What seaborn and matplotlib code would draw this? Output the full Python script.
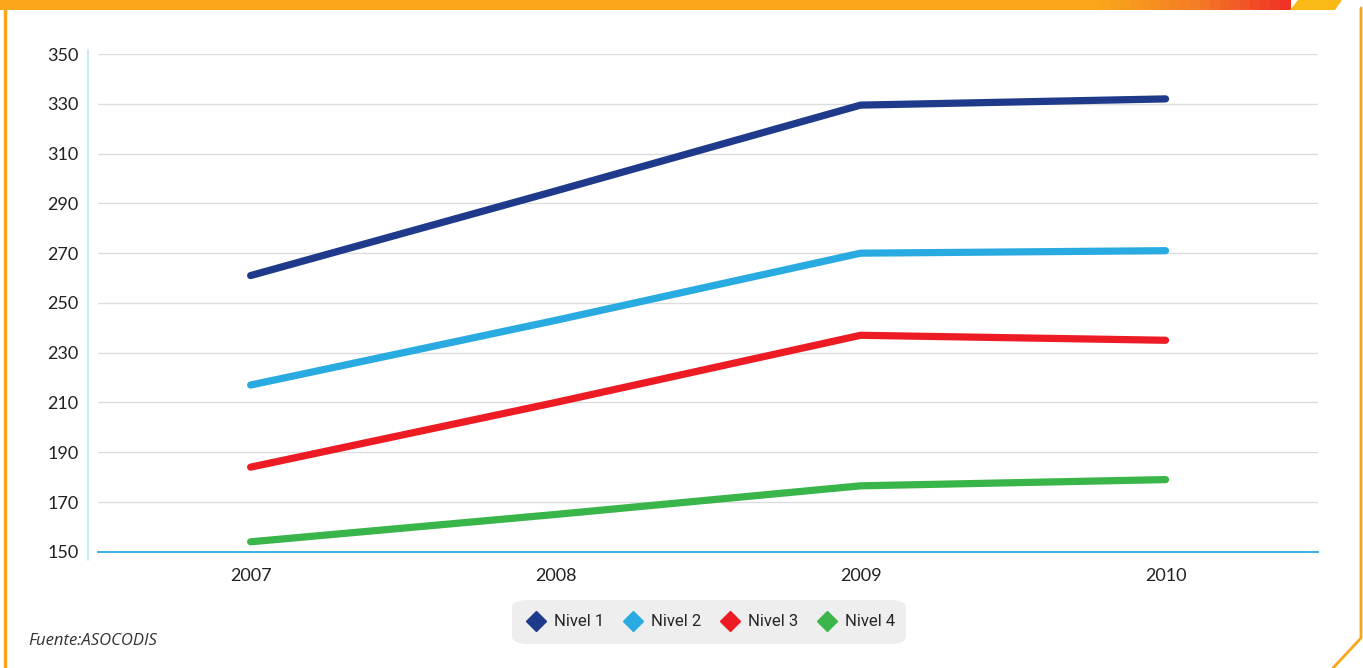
import matplotlib.pyplot as plt
import seaborn as sns
import pandas as pd
import numpy as np
from matplotlib.patches import FancyBboxPatch, Polygon
from matplotlib.lines import Line2D
from matplotlib.colors import LinearSegmentedColormap

years = [2007, 2008, 2009, 2010]
nivel_1 = [261, 295, 329.5, 332]
nivel_2 = [217, 243, 270, 271]
nivel_3 = [184, 210, 237, 235]
nivel_4 = [154, 165, 176.5, 179]
series_names = ["Nivel 1", "Nivel 2", "Nivel 3", "Nivel 4"]
colors = ["#1f3a8a", "#29abe2", "#ed1c24", "#39b54a"]
y_ticks = list(range(150, 351, 20))

df = pd.DataFrame({
    "year": years * 4,
    "value": nivel_1 + nivel_2 + nivel_3 + nivel_4,
    "serie": [s for s in series_names for _ in years],
})

sns.set_style("white")
plt.rcParams["font.family"] = ["Lato", "DejaVu Sans"]

W, H = 1363, 668
fig = plt.figure(figsize=(W / 100, H / 100), dpi=100)
ax = fig.add_axes([0.072, 0.174, 0.895, 0.745])

sns.lineplot(data=df, x="year", y="value", hue="serie", palette=colors,
             linewidth=5.2, ax=ax, legend=False, solid_capstyle="round")

ax.set_xlim(2006.5, 2010.5)
ax.set_ylim(150, 350)
ax.set_xticks(years)
ax.set_xticklabels([str(y) for y in years])
ax.set_yticks(y_ticks)
ax.tick_params(axis="both", labelsize=13, colors="#222222", length=0)
ax.tick_params(axis="x", pad=12)
ax.tick_params(axis="y", pad=14)
ax.set_xlabel("")
ax.set_ylabel("")
for y in y_ticks[1:]:
    ax.axhline(y, color="#dcdcdc", lw=1, zorder=0)
for s in ["top", "right", "left"]:
    ax.spines[s].set_visible(False)
ax.spines["bottom"].set_color("#29abe2")
ax.spines["bottom"].set_linewidth(1.3)

# light blue vertical line on the left
fig.add_artist(Line2D([88 / W, 88 / W], [1 - 560 / H, 1 - 50 / H],
                      color="#bfe6f7", lw=1.2))

# orange top bar with gradient to red
bar_h = 10 / H
grad = LinearSegmentedColormap.from_list("g", ["#f9a61a", "#f9a61a", "#f47b25", "#ee2a24"])
xs = np.linspace(0, 1290, 130)
for i in range(len(xs) - 1):
    t = max(0.0, (xs[i] - 1000) / 290)
    fig.add_artist(Polygon([[xs[i] / W, 1], [(xs[i + 1] + 1) / W, 1],
                            [(xs[i + 1] + 1) / W, 1 - bar_h], [xs[i] / W, 1 - bar_h]],
                           closed=True, facecolor=grad(t), lw=0, transform=fig.transFigure))
fig.add_artist(Polygon([[1298 / W, 1], [1342 / W, 1], [1335 / W, 1 - bar_h], [1290 / W, 1 - bar_h]],
                       closed=True, facecolor="#fbb917", lw=0, transform=fig.transFigure))
fig.add_artist(Line2D([5 / W, 5 / W], [0, 1 - bar_h], color="#f9a61a", lw=2.5))
fig.add_artist(Line2D([1361 / W, 1361 / W, 1333 / W],
                      [1 - 8 / H, 1 - 638 / H, 0], color="#f9a61a", lw=2))

# legend box
fig.add_artist(FancyBboxPatch((512 / W, 1 - 644 / H), 394 / W, 44 / H,
                              boxstyle="round,pad=0,rounding_size=0.012",
                              facecolor="#eeeeee", edgecolor="none",
                              transform=fig.transFigure))
handles = [Line2D([], [], marker="D", ls="none", color=c, markersize=10) for c in colors]
fig.legend(handles, series_names, loc="center", bbox_to_anchor=(709 / W, 1 - 622 / H),
           ncol=4, frameon=False, handletextpad=0.3, columnspacing=0.9,
           handlelength=1.6,
           prop={"family": ["Liberation Sans Narrow", "Roboto"], "size": 12})

fig.text(28 / W, 1 - 641 / H, "Fuente:ASOCODIS", fontsize=12, style="italic",
         color="#333333", va="center", family="Open Sans")

plt.savefig("out.png", dpi=100)
